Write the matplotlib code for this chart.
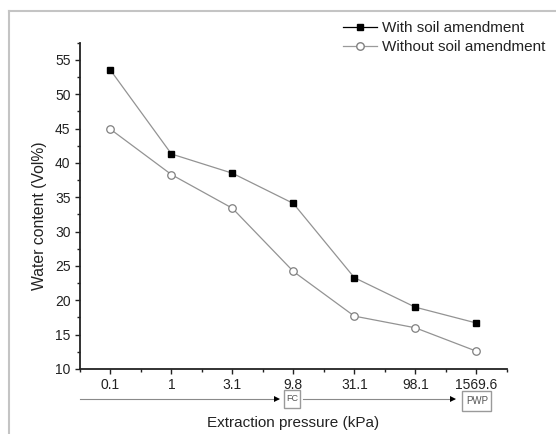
import matplotlib
matplotlib.use("Agg")
import matplotlib.pyplot as plt
from matplotlib.lines import Line2D
from matplotlib.patches import Rectangle
from matplotlib.ticker import MultipleLocator, FixedLocator
import matplotlib.transforms as mtransforms

plt.rcParams['font.family'] = ['Liberation Sans', 'DejaVu Sans']

pressures = ["0.1", "1", "3.1", "9.8", "31.1", "98.1", "1569.6"]
with_amend = [53.5, 41.3, 38.5, 34.1, 23.3, 19.0, 16.7]
without_amend = [44.9, 38.3, 33.4, 24.2, 17.7, 16.0, 12.6]
series_labels = ["With soil amendment", "Without soil amendment"]
fc_label, fc_at = "FC", "9.8"
pwp_label, pwp_at = "PWP", "1569.6"

W, H = 556, 434
fig = plt.figure(figsize=(W / 100, H / 100), dpi=100)
AX_L, AX_R, AX_T, AX_B = 80, 506.7, 42.7, 369
ax = fig.add_axes([AX_L / W, 1 - AX_B / H, (AX_R - AX_L) / W, (AX_B - AX_T) / H])

x = list(range(len(pressures)))
line_col = '#939393'
ax.plot(x, with_amend, color=line_col, lw=0.9, marker='s', ms=4.8,
        mfc='black', mec='black', zorder=3, clip_on=False)
ax.plot(x, without_amend, color=line_col, lw=0.9, marker='o', ms=5.4,
        mfc='white', mec='#808080', mew=0.9, zorder=3, clip_on=False)

ax.set_xlim(-0.5, len(pressures) - 0.5)
ax.set_ylim(10, 57.5)
ax.xaxis.set_major_locator(FixedLocator(x))
ax.set_xticklabels(pressures)
ax.xaxis.set_minor_locator(FixedLocator([i + 0.5 for i in range(-1, len(pressures))]))
ax.yaxis.set_major_locator(MultipleLocator(5))
ax.yaxis.set_minor_locator(MultipleLocator(2.5))

for s in ['top', 'right']:
    ax.spines[s].set_visible(False)
for s in ['left', 'bottom']:
    ax.spines[s].set_linewidth(1.3)
    ax.spines[s].set_color('#222222')

ax.tick_params(axis='both', which='major', direction='out', length=3.8, width=1.0,
               labelsize=10, colors='#222222', pad=2.5)
ax.tick_params(axis='both', which='minor', direction='out', length=2.2, width=1.0,
               colors='#222222')
ax.tick_params(axis='y', which='major', pad=3.0)

ax.set_xlabel("Extraction pressure (kPa)", fontsize=11, color='#222222')
ax.set_ylabel("Water content (Vol%)", fontsize=11.3, color='#222222')
ax.xaxis.set_label_coords(0.5, -(423 - AX_B) / (AX_B - AX_T))
ax.yaxis.set_label_coords((39.3 - AX_L) / (AX_R - AX_L), (AX_B - 216) / (AX_B - AX_T))
ax.xaxis.label.set_va('center')
ax.yaxis.label.set_va('center')

# FC / PWP arrows below the axis (annotation geometry in pixels)
trans = mtransforms.blended_transform_factory(ax.transData, ax.transAxes)
py = lambda p: -(p - AX_B) / (AX_B - AX_T)
px = lambda p: (p - 110.7) / 60.8
yarr = py(399.3)
segs = [(-0.5, px(280.7)), (px(303), px(456))]
for x0, x1 in segs:
    ax.plot([x0, x1 - 0.05], [yarr, yarr], color='#8a8a8a', lw=0.8,
            transform=trans, clip_on=False)
    ax.plot([x1 - 0.06], [yarr], marker='>', color='black', ms=4.8,
            transform=trans, clip_on=False, mew=0)

boxes = [(fc_label, (283.3, 300.0, 390.0, 407.7), 6.5),
         (pwp_label, (461.7, 490.7, 391.0, 410.7), 7.0)]
for lab, (l, r, t, b), fs in boxes:
    rect = Rectangle((px(l), py(b)), px(r) - px(l), py(t) - py(b), transform=trans,
                     fill=True, fc='white', ec='#9a9a9a', lw=1.0, clip_on=False)
    ax.add_patch(rect)
    ax.text((px(l) + px(r)) / 2, (py(t) + py(b)) / 2, lab, transform=trans,
            ha='center', va='center', fontsize=fs, color='#555555')

# legend
handles = [
    Line2D([], [], color='black', lw=0.9, marker='s', ms=4.8, mfc='black', mec='black'),
    Line2D([], [], color='#9a9a9a', lw=0.9, marker='o', ms=5.4, mfc='white', mec='#808080'),
]
fig.legend(handles, series_labels, loc='upper left',
           bbox_to_anchor=(343 / W, 1 - 21.5 / H), frameon=False, fontsize=11,
           handlelength=2.2, handletextpad=0.33, borderpad=0, borderaxespad=0,
           labelspacing=0.32, labelcolor='#222222')

# outer frame lines (gray)
fig.add_artist(Line2D([9 / W, 1], [1 - 11 / H, 1 - 11 / H], color='#c4c4c4', lw=1.5,
                      transform=fig.transFigure))
fig.add_artist(Line2D([9 / W, 9 / W], [0, 1 - 11 / H], color='#c4c4c4', lw=1.5,
                      transform=fig.transFigure))

fig.savefig("out.png", dpi=100)
